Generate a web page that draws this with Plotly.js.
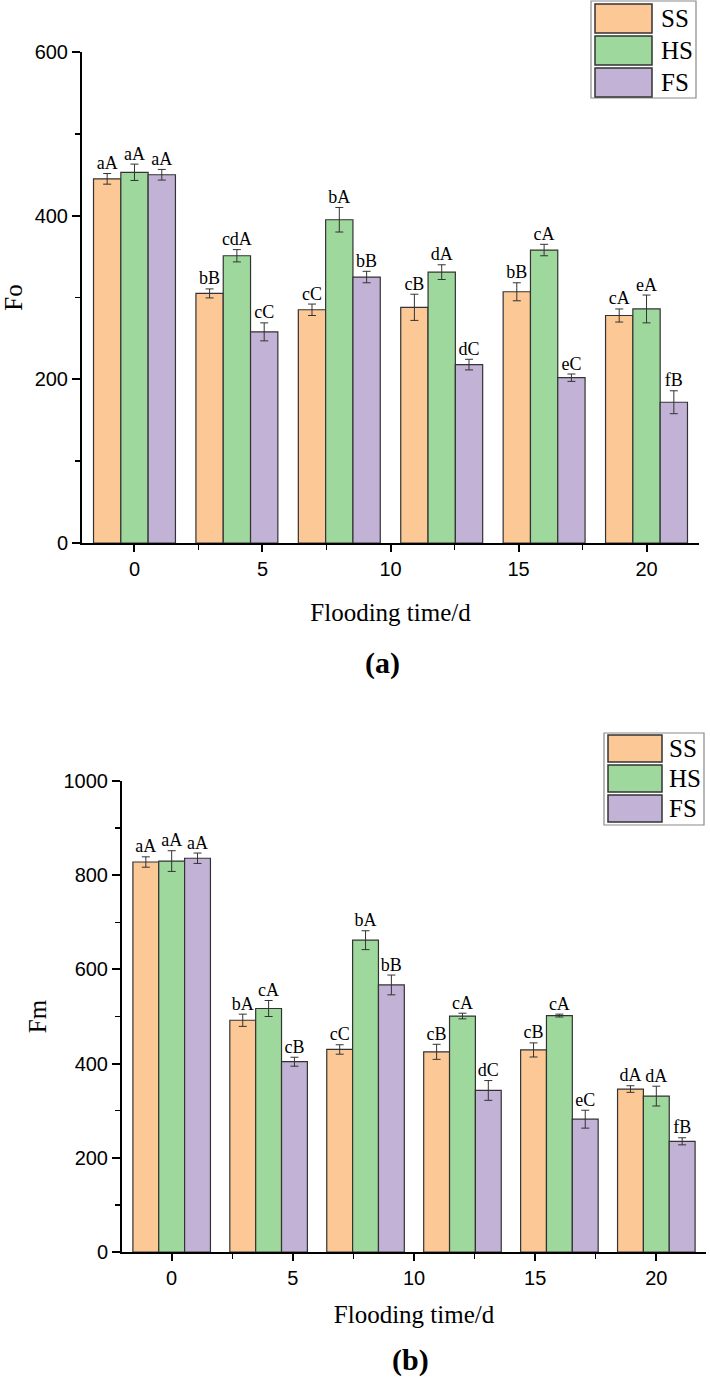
<!DOCTYPE html>
<html>
<head>
<meta charset="utf-8">
<script src="https://cdn.plot.ly/plotly-3.0.1.min.js"></script>
<style>html,body{margin:0;padding:0;background:#fff;}#chart{width:710px;height:1380px;}</style>
</head>
<body>
<div id="chart"></div>
<script>
// ---- data ----
const days = [0, 4, 8, 12, 16, 20];
const seriesNames = ['SS', 'HS', 'FS'];

const foSS = [445, 305, 285, 288, 307, 278];
const foHS = [453, 351, 395, 331, 358, 286];
const foFS = [450, 258, 325, 218, 202, 172];
const foSSerr = [6.5, 5.5, 7, 16, 11, 8];
const foHSerr = [10, 7.5, 15, 9, 7, 17];
const foFSerr = [6.5, 11, 7, 6.5, 4.5, 14];
const foSSlab = ['aA', 'bB', 'cC', 'cB', 'bB', 'cA'];
const foHSlab = ['aA', 'cdA', 'bA', 'dA', 'cA', 'eA'];
const foFSlab = ['aA', 'cC', 'bB', 'dC', 'eC', 'fB'];

const fmSS = [828, 492, 430, 425, 429, 346];
const fmHS = [830, 517, 662, 501, 502, 331];
const fmFS = [836, 404, 567, 343, 282, 235];
const fmSSerr = [11, 13, 10, 16, 15, 7];
const fmHSerr = [22, 17, 20, 6, 3, 21];
const fmFSerr = [11, 9.5, 21, 21, 19, 7.5];
const fmSSlab = ['aA', 'bA', 'cC', 'cB', 'cB', 'dA'];
const fmHSlab = ['aA', 'cA', 'bA', 'cA', 'cA', 'dA'];
const fmFSlab = ['aA', 'cB', 'bB', 'dC', 'eC', 'fB'];

const xTickVals = [0, 5, 10, 15, 20];

// ---- styles ----
const colors = ['#FCC896', '#9ED89D', '#C2B2D6'];
const serif = 'Liberation Serif, Times New Roman, serif';
const sans = 'Liberation Sans, Arial, sans-serif';
const bargap = 0.2;
const spacing = days[1] - days[0];
const barW = spacing * (1 - bargap) / 3;
const H = 1380, W = 710;

const panels = [
  {vals: [foSS, foHS, foFS], errs: [foSSerr, foHSerr, foFSerr], labs: [foSSlab, foHSlab, foFSlab], xa: 'x', ya: 'y',
   leg: {x0: 591, x1: 696, y0: 1, y1: 98, rowTop: 4, rowH: 32, sw0: 595, sw1: 652, tx: 659}},
  {vals: [fmSS, fmHS, fmFS], errs: [fmSSerr, fmHSerr, fmFSerr], labs: [fmSSlab, fmHSlab, fmFSlab], xa: 'x2', ya: 'y2',
   leg: {x0: 604, x1: 704, y0: 733, y1: 825, rowTop: 735, rowH: 30, sw0: 608, sw1: 662, tx: 667}}
];

const traces = [];
const shapes = [];
const annotations = [];
const px = v => v / W;
const py = v => 1 - v / H;

panels.forEach(p => {
  for (let i = 0; i < 3; i++) {
    traces.push({
      type: 'bar', name: seriesNames[i], x: days, y: p.vals[i], showlegend: false,
      xaxis: p.xa, yaxis: p.ya,
      marker: {color: colors[i], line: {color: '#333', width: 1.2}},
      error_y: {type: 'data', array: p.errs[i], visible: true, color: '#333', thickness: 1, width: 4}
    });
  }
  for (let i = 0; i < 3; i++) {
    traces.push({
      type: 'scatter', mode: 'text', showlegend: false, hoverinfo: 'skip',
      x: days.map(d => d + (i - 1) * barW),
      y: p.vals[i].map((v, k) => v + p.errs[i][k]),
      text: p.labs[i], textposition: 'top center', cliponaxis: false,
      textfont: {family: serif, size: 18, color: '#000'},
      xaxis: p.xa, yaxis: p.ya
    });
  }
  // legend box (drawn as shapes + text)
  const L = p.leg;
  shapes.push({type: 'rect', xref: 'paper', yref: 'paper', x0: px(L.x0), x1: px(L.x1), y0: py(L.y1), y1: py(L.y0),
               line: {color: '#8a8a8a', width: 1.2}, fillcolor: '#fff'});
  for (let i = 0; i < 3; i++) {
    const t = L.rowTop + i * L.rowH;
    shapes.push({type: 'rect', xref: 'paper', yref: 'paper', x0: px(L.sw0), x1: px(L.sw1), y0: py(t + L.rowH - 3), y1: py(t),
                 line: {color: '#333', width: 1.5}, fillcolor: colors[i]});
    annotations.push({text: seriesNames[i], xref: 'paper', yref: 'paper', x: px(L.tx), y: py(t + (L.rowH - 3) / 2),
                      xanchor: 'left', yanchor: 'middle', showarrow: false, font: {family: serif, size: 25, color: '#000'}});
  }
});

function xAxis(domain, anchor, standoff) {
  return {
    domain: domain, anchor: anchor, range: [-2.05, 22.05],
    tickmode: 'array', tickvals: xTickVals, ticktext: xTickVals.map(String),
    showline: true, linecolor: '#000', linewidth: 2, mirror: false,
    ticks: 'outside', ticklen: 7, tickwidth: 2, tickcolor: '#000',
    minor: {ticks: 'outside', dtick: 2.5, tick0: 0, ticklen: 5, tickwidth: 1.5, tickcolor: '#000', showgrid: false},
    showgrid: false, zeroline: false,
    tickfont: {family: sans, size: 20, color: '#000'},
    title: {text: 'Flooding time/d', font: {family: serif, size: 25, color: '#000'}, standoff: standoff}
  };
}
function yAxis(domain, anchor, range, dtick, title, standoff) {
  return {
    domain: domain, anchor: anchor, range: range, dtick: dtick,
    showline: true, linecolor: '#000', linewidth: 2,
    ticks: 'outside', ticklen: 8, tickwidth: 2, tickcolor: '#000',
    minor: {ticks: 'outside', dtick: dtick / 2, ticklen: 5, tickwidth: 1.5, tickcolor: '#000', showgrid: false},
    showgrid: false, zeroline: false,
    tickfont: {family: sans, size: 20, color: '#000'},
    title: {text: title, font: {family: serif, size: 25, color: '#000'}, standoff: standoff}
  };
}

annotations.push(
  {text: '<b>(a)</b>', xref: 'paper', yref: 'paper', x: px(383), y: py(663), showarrow: false,
   font: {family: serif, size: 30, color: '#000'}, xanchor: 'center', yanchor: 'middle'},
  {text: '<b>(b)</b>', xref: 'paper', yref: 'paper', x: px(410), y: py(1360), showarrow: false,
   font: {family: serif, size: 30, color: '#000'}, xanchor: 'center', yanchor: 'middle'}
);

const layout = {
  width: W, height: H,
  margin: {l: 0, r: 0, t: 0, b: 0},
  paper_bgcolor: '#fff', plot_bgcolor: '#fff',
  barmode: 'group', bargap: bargap, bargroupgap: 0,
  font: {family: serif, color: '#000'},
  xaxis: xAxis([px(82), px(699)], 'y', 24),
  yaxis: yAxis([py(543), py(52)], 'x', [0, 600], 200, 'Fo', 14),
  xaxis2: xAxis([px(122), px(706)], 'y2', 17),
  yaxis2: yAxis([py(1252), py(781)], 'x2', [0, 1000], 200, 'Fm', 10),
  shapes: shapes,
  annotations: annotations,
  showlegend: false
};

Plotly.newPlot('chart', traces, layout, {displayModeBar: false, staticPlot: true});
</script>
</body>
</html>
